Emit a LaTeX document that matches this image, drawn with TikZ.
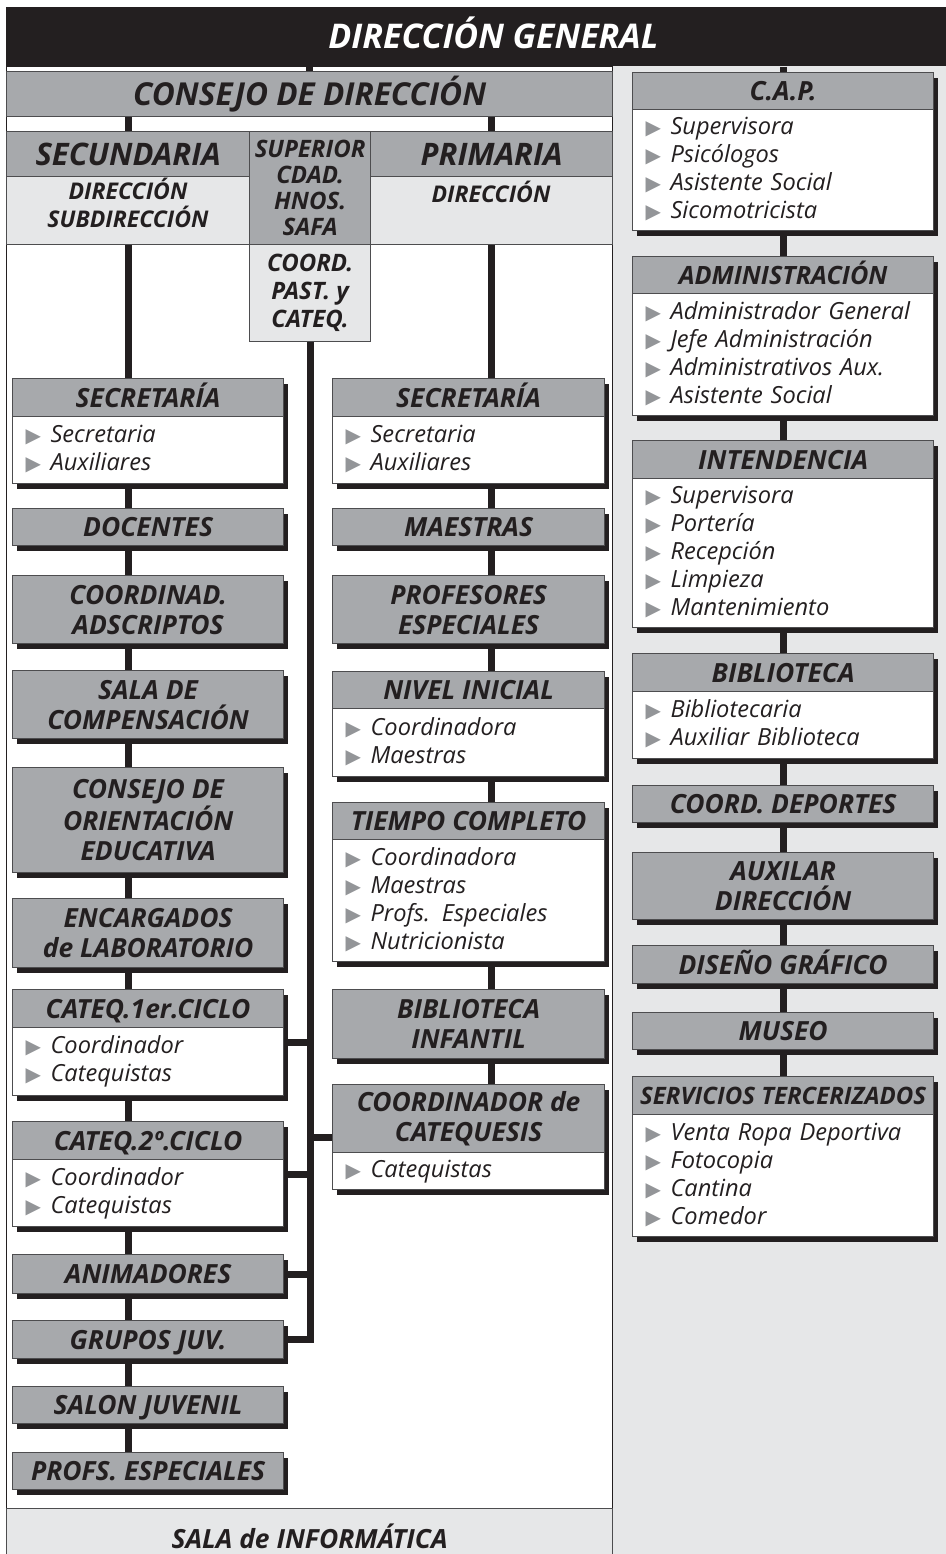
\documentclass[tikz,border=0pt]{standalone}
\usepackage{fontspec}
\setmainfont{Open Sans}
\newfontfamily\dvs{DejaVu Sans}
\usetikzlibrary{shadows,calc}
\definecolor{dk}{HTML}{231F20}
\definecolor{gr}{HTML}{A7A9AC}
\definecolor{lg}{HTML}{E6E7E8}
\definecolor{bulc}{HTML}{939598}
\definecolor{bord}{HTML}{4D4D4F}
\pgfdeclarelayer{back}
\pgfdeclarelayer{lines}
\pgfsetlayers{back,lines,main}
\newcommand\bl{\makebox[12.5pt][l]{\textcolor{bulc}{\dvs\fontsize{10}{10}\selectfont ▶}}\vrule height 9pt depth 2.5pt width 0pt\relax}
\newcommand\itf{\itshape\fontsize{11.8}{14}\selectfont}
\newcommand\hdf{\bfseries\itshape\fontsize{13.2}{15}\selectfont}
\newcommand\bigf{\bfseries\itshape\fontsize{15.5}{17}\selectfont}
\newcommand\subf{\bfseries\itshape\fontsize{11.5}{13}\selectfont}
\tikzset{
  wd/.style={minimum width=#1*0.5pt},
  ht/.style={minimum height=#1*0.5pt},
  shd/.style={drop shadow={shadow xshift=2pt,shadow yshift=-2.75pt,fill=dk,opacity=1}},
  plain/.style={anchor=north west, draw=bord, line width=0.6pt, inner sep=0pt, align=center, text=dk},
  hbox/.style={plain, fill=gr, font=\hdf, shd},
  hone/.style={hbox, text height=9.4pt, text depth=0pt},
  bbox/.style={anchor=north west, draw=bord, line width=0.6pt, fill=white, inner xsep=6.5pt, inner ysep=0pt, align=left, text=dk, font=\itf, shd},
  lbody/.style={bbox, wd=271, text width=122.5pt},
  mbody/.style={bbox, wd=272, text width=123pt},
  rbody/.style={bbox, wd=301, text width=137.5pt},
  conn/.style={line width=3.5pt, draw=dk},
  subtxt/.style={anchor=base, inner sep=0pt, text=dk, font=\subf},
}
\begin{document}
\begin{tikzpicture}[x=0.5pt, y=-0.5pt]
\useasboundingbox (0,0) rectangle (946,1554);
\begin{pgfonlayer}{back}
\node[anchor=north west, fill=lg, inner sep=0pt, wd=334, ht=1488] (rpanel) at (612,66) {};
\node[anchor=north west, fill=white, draw=dk, line width=0.7pt, inner sep=0pt, wd=606, ht=1500] (lpanel) at (6,66) {};
\end{pgfonlayer}

% header
\node[anchor=north west, fill=dk, inner sep=0pt, wd=940, ht=59, text=white,
  font=\bfseries\itshape\fontsize{17}{20}\selectfont, text height=12pt, text depth=0pt] (dg) at (6,7) {\hspace*{17pt}DIRECCIÓN GENERAL};

\node[plain, fill=gr, wd=606, ht=45, font=\bfseries\itshape\fontsize{15.8}{18}\selectfont, text height=11.3pt, text depth=0pt] (cons) at (6,71) {CONSEJO DE DIRECCIÓN};

\node[plain, fill=gr, wd=243, ht=45, font=\bigf, text height=11pt, text depth=0pt] (sech) at (6,131) {SECUNDARIA};
\node[plain, fill=lg, wd=243, ht=68] (secs) at (6,176) {};
\node[subtxt] (secs1) at (128,199.5) {DIRECCIÓN};
\node[subtxt] (secs2) at (128,227.5) {SUBDIRECCIÓN};
\node[plain, fill=gr, wd=121, ht=113, font=\bfseries\itshape\fontsize{12}{13}\selectfont] (sup) at (249,131) {SUPERIOR\\CDAD.\\HNOS.\\SAFA};
\node[plain, fill=gr, wd=242, ht=45, font=\bigf, text height=11pt, text depth=0pt] (primh) at (370,131) {PRIMARIA};
\node[plain, fill=lg, wd=242, ht=68] (prims) at (370,176) {};
\node[subtxt] (prims1) at (491,202.5) {DIRECCIÓN};
\node[plain, fill=lg, wd=121, ht=97, font=\bfseries\itshape\fontsize{12}{14}\selectfont] (cpc) at (249,244) {COORD.\\PAST. y\\CATEQ.};

% left column
\node[hone, wd=271, ht=38] (lsech) at (12,378) {SECRETARÍA};
\node[lbody, ht=67] (lsecb) at (12,416) {\bl Secretaria\\\bl Auxiliares};
\node[hone, wd=271, ht=37] (ldoc) at (12,508) {DOCENTES};
\node[hbox, wd=271, ht=68] (lcoor) at (12,575) {COORDINAD.\\ADSCRIPTOS};
\node[hbox, wd=271, ht=68] (lsala) at (12,670) {SALA DE\\COMPENSACIÓN};
\node[hbox, wd=271, ht=105] (lcoe) at (12,767) {CONSEJO DE\\ORIENTACIÓN\\EDUCATIVA};
\node[hbox, wd=271, ht=69] (lenc) at (12,898) {ENCARGADOS\\de LABORATORIO};
\node[hone, wd=271, ht=38] (lc1h) at (12,989) {CATEQ.1er.CICLO};
\node[lbody, ht=68] (lc1b) at (12,1027) {\bl Coordinador\\\bl Catequistas};
\node[hone, wd=271, ht=38] (lc2h) at (12,1121) {CATEQ.2º.CICLO};
\node[lbody, ht=67] (lc2b) at (12,1159) {\bl Coordinador\\\bl Catequistas};
\node[hone, wd=271, ht=39] (lani) at (12,1254) {ANIMADORES};
\node[hone, wd=271, ht=38] (lgru) at (12,1320) {GRUPOS JUV.};
\node[hone, wd=271, ht=37] (lsal) at (12,1386) {SALON JUVENIL};
\node[hone, wd=271, ht=37] (lpro) at (12,1452) {PROFS. ESPECIALES};

% middle column
\node[hone, wd=272, ht=38] (msech) at (332,378) {SECRETARÍA};
\node[mbody, ht=67] (msecb) at (332,416) {\bl Secretaria\\\bl Auxiliares};
\node[hone, wd=272, ht=37] (mmae) at (332,508) {MAESTRAS};
\node[hbox, wd=272, ht=68] (mprof) at (332,575) {PROFESORES\\ESPECIALES};
\node[hone, wd=272, ht=37] (mnivh) at (332,671) {NIVEL INICIAL};
\node[mbody, ht=68] (mnivb) at (332,708) {\bl Coordinadora\\\bl Maestras};
\node[hone, wd=272, ht=37] (mtch) at (332,802) {TIEMPO COMPLETO};
\node[mbody, ht=122] (mtcb) at (332,839) {\bl Coordinadora\\\bl Maestras\\\bl Profs. Especiales\\\bl Nutricionista};
\node[hbox, wd=272, ht=69] (mbib) at (332,989) {BIBLIOTECA\\INFANTIL};
\node[hbox, wd=272, ht=68] (mcath) at (332,1084) {COORDINADOR de\\CATEQUESIS};
\node[mbody, ht=37] (mcatb) at (332,1152) {\bl Catequistas};

% right column
\node[hone, wd=301, ht=37] (caph) at (632,72) {C.A.P.};
\node[rbody, ht=121] (capb) at (632,109) {\bl Supervisora\\\bl Psicólogos\\\bl Asistente Social\\\bl Sicomotricista};
\node[hone, wd=301, ht=37, font=\bfseries\itshape\fontsize{12.6}{15}\selectfont] (admh) at (632,256) {ADMINISTRACIÓN};
\node[rbody, ht=122] (admb) at (632,293) {\bl Administrador General\\\bl Jefe Administración\\\bl Administrativos Aux.\\\bl Asistente Social};
\node[hone, wd=301, ht=38] (inth) at (632,440) {INTENDENCIA};
\node[rbody, ht=149] (intb) at (632,478) {\bl Supervisora\\\bl Portería\\\bl Recepción\\\bl Limpieza\\\bl Mantenimiento};
\node[hone, wd=301, ht=38] (bibh) at (632,653) {BIBLIOTECA};
\node[rbody, ht=67] (bibb) at (632,691) {\bl Bibliotecaria\\\bl Auxiliar Biblioteca};
\node[hone, wd=301, ht=37] (dep) at (632,785) {COORD. DEPORTES};
\node[hbox, wd=301, ht=67] (aux) at (632,852) {AUXILAR\\DIRECCIÓN};
\node[hone, wd=301, ht=38] (dis) at (632,945) {DISEÑO GRÁFICO};
\node[hone, wd=301, ht=37] (mus) at (632,1012) {MUSEO};
\node[hone, wd=301, ht=38, font=\bfseries\itshape\fontsize{12}{13}\selectfont, text height=8.6pt] (servh) at (632,1076) {SERVICIOS TERCERIZADOS};
\node[rbody, ht=122] (servb) at (632,1114) {\bl Venta Ropa Deportiva\\\bl Fotocopia\\\bl Cantina\\\bl Comedor};

% bottom
\node[plain, fill=lg, wd=606, ht=60, font=\hdf, text height=9.4pt, text depth=0pt] (sinf) at (6,1508) {SALA de INFORMÁTICA};

% connectors
\begin{pgfonlayer}{lines}
\draw[conn] (cons.north) -- (cons.north |- dg.south);
\draw[conn] (sech.north) -- (sech.north |- cons.south);
\draw[conn] (primh.north) -- (primh.north |- cons.south);
\draw[conn] (secs.south) -- (secs.south |- lpro.north);
\draw[conn] (prims.south) -- (prims.south |- mcath.north);
\draw[conn] (caph.north |- dg.south) -- (servh.north);
\draw[conn] (cpc.south) -- (cpc.south |- lgru.east) -- (lgru.east);
\coordinate (c1) at ($(lc1h.north east)!0.5!(lc1b.south east)$);
\coordinate (c2) at ($(lc2h.north east)!0.5!(lc2b.south east)$);
\coordinate (c3) at ($(mcath.north west)!0.5!(mcatb.south west)$);
\draw[conn] (c1) -- (c1 -| cpc.south);
\draw[conn] (c2) -- (c2 -| cpc.south);
\draw[conn] (lani.east) -- (lani.east -| cpc.south);
\draw[conn] (c3) -- (c3 -| cpc.south);
\end{pgfonlayer}
\end{tikzpicture}
\end{document}
